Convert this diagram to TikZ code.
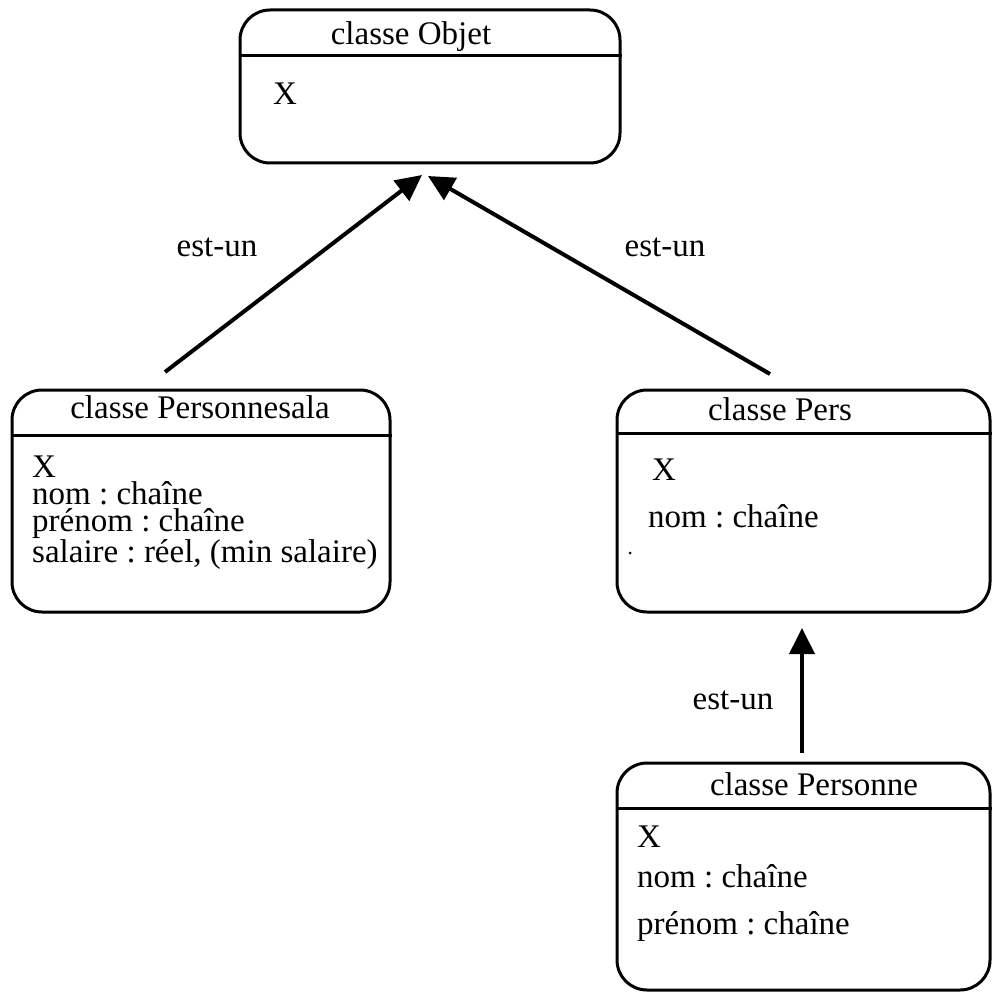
\documentclass[tikz,border=0pt]{standalone}
\usepackage{fontspec}
\setmainfont{Liberation Serif}
\usetikzlibrary{arrows.meta}
\begin{document}
\frenchspacing
\begin{tikzpicture}[x=1pt,y=-1pt,
  classbox/.style={draw,line width=3pt,rounded corners=30pt,inner sep=0pt},
  hdr/.style={line width=2.5pt},
  txt/.style={inner sep=0pt,font=\fontsize{33}{40}\selectfont},
  body/.style={txt,align=left,anchor=base west},
  isa/.style={line width=4pt,-{Triangle[length=26pt,width=25pt]}},
]
\useasboundingbox (0,0) rectangle (992,992);

% class boxes
\node[classbox,minimum width=380pt,minimum height=153pt] (objet) at (430,86.5) {};
\node[classbox,minimum width=378pt,minimum height=222pt] (sala) at (201,501) {};
\node[classbox,minimum width=373pt,minimum height=222pt] (pers) at (803.5,501) {};
\node[classbox,minimum width=373pt,minimum height=227pt] (personne) at (803.5,876.5) {};

% header separators
\draw[hdr] ([yshift=-47pt]objet.north west) -- ([yshift=-47pt]objet.north east);
\draw[hdr] ([yshift=-47pt]sala.north west) -- ([yshift=-47pt]sala.north east);
\draw[hdr] ([yshift=-45pt]pers.north west) -- ([yshift=-45pt]pers.north east);
\draw[hdr] ([yshift=-47pt]personne.north west) -- ([yshift=-47pt]personne.north east);

% class Objet
\node[txt,anchor=base] (objet-t) at (411,45) {classe Objet};
\node[txt,anchor=base west] (objet-x) at (273,105) {X};

% class Personnesala (base anchor = last line)
\node[txt,anchor=base] (sala-t) at (200,418) {classe Personnesala};
\node[body,font=\fontsize{33}{26.7}\selectfont] (sala-b) at (32,562)
  {X\\nom : chaîne\\prénom : chaîne\\salaire : réel, (min salaire)};

% class Pers
\node[txt,anchor=base] (pers-t) at (780,420) {classe Pers};
\node[txt,anchor=base west] (pers-x) at (652,480) {X};
\node[txt,anchor=base west] (pers-nom) at (648,527) {nom : chaîne};
\fill (630,553) circle (1.5pt);

% class Personne (base anchor = last line)
\node[txt,anchor=base] (personne-t) at (814,795) {classe Personne};
\node[body,font=\fontsize{33}{40}\selectfont] (personne-b) at (637,934)
  {X\\nom : chaîne\\[7pt]prénom : chaîne};

% is-a links
\coordinate (s1) at (165,372);
\coordinate (t1) at (422,175);
\coordinate (s2) at (770,374);
\coordinate (t2) at (428,176);
\coordinate (s3) at (802,753);
\coordinate (t3) at (802,628);
\draw[isa] (s1) -- (t1);
\draw[isa] (s2) -- (t2);
\draw[isa] (s3) -- (t3);

\node[txt] (l1) at (217,247) {est-un};
\node[txt] (l2) at (665,247) {est-un};
\node[txt] (l3) at (733,700) {est-un};
\end{tikzpicture}
\end{document}
